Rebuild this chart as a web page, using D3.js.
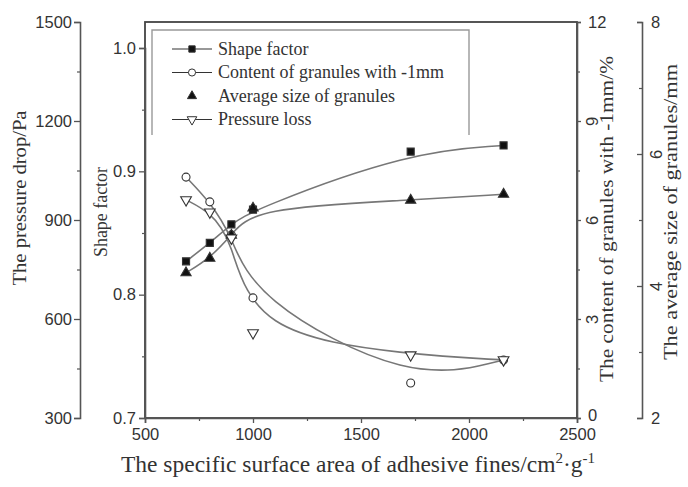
<!DOCTYPE html>
<html>
<head>
<meta charset="utf-8">
<script src="https://cdn.jsdelivr.net/npm/d3@7"></script>
<style>
  html, body { margin: 0; padding: 0; background: #fff; }
  svg text { fill: #333; }
</style>
</head>
<body>
<svg id="chart" width="688" height="487"></svg>
<script>
// Specific surface area of the adhesive fines (cm^2/g)
const specificArea = [690, 800, 900, 1000, 1730, 2160];
// Shape factor of granules (left inner axis)
const shapeFactor = [0.827, 0.842, 0.857, 0.869, 0.916, 0.921];
// Content of granules finer than 1 mm, % (right inner axis)
const contentFine = [7.3, 6.55, 5.55, 3.64, 1.06, 1.76];
// Average granule size, mm (right outer axis)
const avgSize = [4.2, 4.42, 4.77, 5.18, 5.30, 5.39];
// Pressure drop through the bed, Pa (left outer axis)
const pressureLoss = [961, 924, 845, 558, 491, 476];

const xTicks = [500, 1000, 1500, 2000, 2500];
const sfTicks = [0.7, 0.8, 0.9, 1.0];
const pTicks = [300, 600, 900, 1200, 1500];
const cTicks = [0, 3, 6, 9, 12];
const sTicks = [2, 4, 6, 8];

const legendLabels = ["Shape factor", "Content of granules with -1mm",
                      "Average size of granules", "Pressure loss"];

const svg = d3.select("#chart");
const L = 145, R = 577, T = 22, B = 418;

const x = d3.scaleLinear([500, 2500], [L, R]);
const ySF = d3.scaleLinear([0.7, 1.0], [B, 48]);
const yP = d3.scaleLinear([300, 1500], [B, T]);
const yC = d3.scaleLinear([0, 12], [B, T]);
const yS = d3.scaleLinear([2, 8], [B, T]);

const sans = "'Liberation Sans', Arial, sans-serif";
const serif = "'Liberation Serif', 'Times New Roman', serif";
const axisColor = "#555";
const tickFont = 16.5;

function styleAxis(g, fontSize) {
  g.selectAll("path.domain").attr("stroke", axisColor).attr("stroke-width", 1.6);
  g.selectAll(".tick line").attr("stroke", axisColor).attr("stroke-width", 1.3);
  g.selectAll(".tick text").attr("font-family", sans).attr("font-size", fontSize).attr("fill", "#333");
}
function minor(g, scale, values, orient, size) {
  const ax = orient(scale).tickValues(values).tickSize(size).tickFormat("");
  const m = g.append("g").call(ax);
  m.select("path.domain").remove();
  m.selectAll(".tick line").attr("stroke", axisColor).attr("stroke-width", 1.2);
}

// Frame
svg.append("rect").attr("x", L).attr("y", T).attr("width", R - L).attr("height", B - T)
  .attr("fill", "none").attr("stroke", "#444").attr("stroke-width", 1.8);

// Bottom axis
const gx = svg.append("g").attr("transform", `translate(0,${B})`)
  .call(d3.axisBottom(x).tickValues(xTicks).tickSize(5).tickPadding(5).tickFormat(d3.format("d")));
styleAxis(gx, tickFont);
minor(gx, x, [750, 1250, 1750, 2250], d3.axisBottom, 3);

// Shape factor axis (left, on frame)
const gsf = svg.append("g").attr("transform", `translate(${L},0)`)
  .call(d3.axisLeft(ySF).tickValues(sfTicks).tickSize(6).tickPadding(3).tickFormat(d3.format(".1f")));
styleAxis(gsf, tickFont);
minor(gsf, ySF, [0.75, 0.85, 0.95], d3.axisLeft, 3);

// Pressure axis (left, outer)
const gp = svg.append("g").attr("transform", `translate(80,0)`)
  .call(d3.axisLeft(yP).tickValues(pTicks).tickSize(6).tickPadding(2).tickFormat(d3.format("d")));
styleAxis(gp, tickFont);
minor(gp, yP, [450, 750, 1050, 1350], d3.axisLeft, 3);

// Content axis (right, on frame); inner labels are turned on their side
const gc = svg.append("g").attr("transform", `translate(${R},0)`)
  .call(d3.axisRight(yC).tickValues(cTicks).tickSize(4).tickPadding(7).tickFormat(d3.format("d")));
styleAxis(gc, tickFont);
minor(gc, yC, [1.5, 4.5, 7.5, 10.5], d3.axisRight, 3);
gc.selectAll(".tick text").filter(d => d > 0 && d < 12)
  .attr("text-anchor", "middle").attr("x", 0).attr("y", 0).attr("dy", "0.35em")
  .attr("transform", "translate(15,0) rotate(-90)");
gc.selectAll(".tick text").filter(d => d === 0).attr("dy", "0.15em");

// Average size axis (right, outer) with ticks pointing inward
const gs = svg.append("g").attr("transform", `translate(642,0)`)
  .call(d3.axisRight(yS).tickValues(sTicks).tickSizeInner(-5).tickSizeOuter(-5).tickPadding(9).tickFormat(d3.format("d")));
styleAxis(gs, tickFont);
minor(gs, yS, [3, 5, 7], d3.axisRight, -3);
gs.selectAll(".tick text").filter(d => d > 2 && d < 8)
  .attr("text-anchor", "middle").attr("x", 0).attr("y", 0).attr("dy", "0.35em")
  .attr("transform", "translate(14,0) rotate(-90)");

// Axis titles
function vTitle(xp, yp, txt, size, len) {
  svg.append("text").attr("transform", `translate(${xp},${yp}) rotate(-90)`)
    .attr("text-anchor", "middle").attr("dominant-baseline", "central")
    .attr("font-family", serif).attr("font-size", size)
    .attr("textLength", len).attr("lengthAdjust", "spacingAndGlyphs").text(txt);
}
vTitle(20, 198, "The pressure drop/Pa", 18, 175);
vTitle(101, 212, "Shape factor", 18, 90);
vTitle(607, 219, "The content of granules with -1mm/%", 18, 326);
vTitle(671, 212, "The average size of granules/mm", 18, 296);

const xt = svg.append("text").attr("x", 358).attr("y", 472).attr("text-anchor", "middle")
  .attr("font-family", serif).attr("font-size", 23.5);
xt.append("tspan").text("The specific surface area of adhesive fines/cm");
xt.append("tspan").attr("dy", -9).attr("font-size", 15).text("2");
xt.append("tspan").attr("dy", 9).text("·g");
xt.append("tspan").attr("dy", -9).attr("font-size", 15).text("-1");

// Series
const series = [
  { vals: shapeFactor, y: ySF, sym: d3.symbolSquare, size: 50, fill: "#111" },
  { vals: contentFine, y: yC, sym: d3.symbolCircle, size: 50, fill: "#fff" },
  { vals: avgSize, y: yS, sym: d3.symbolTriangle, size: 45, fill: "#111" },
  { vals: pressureLoss, y: yP, sym: d3.symbolTriangle, size: 50, fill: "#fff", flip: true }
];

const lineColor = "#777";
series.forEach(s => {
  const pts = specificArea.map((a, i) => [x(a), s.y(s.vals[i])]);
  svg.append("path").datum(pts)
    .attr("d", d3.line().curve(d3.curveBasis))
    .attr("fill", "none").attr("stroke", lineColor).attr("stroke-width", 1.6);
});
series.forEach(s => {
  specificArea.forEach((a, i) => {
    svg.append("path")
      .attr("d", d3.symbol(s.sym, s.size)())
      .attr("transform", `translate(${x(a)},${s.y(s.vals[i])})${s.flip ? " rotate(180)" : ""}`)
      .attr("fill", s.fill).attr("stroke", "#333").attr("stroke-width", 1.1);
  });
});

// Legend (open at the bottom)
const lg = svg.append("g");
lg.append("path").attr("d", `M152,135 V30 H469 V135`)
  .attr("fill", "none").attr("stroke", "#999").attr("stroke-width", 1.4);
legendLabels.forEach((lab, i) => {
  const s = series[i];
  const yy = 49 + i * 23.5;
  if (i !== 2) {
    lg.append("line").attr("x1", 172).attr("x2", 212).attr("y1", yy).attr("y2", yy)
      .attr("stroke", "#333").attr("stroke-width", 1.2);
  }
  lg.append("path").attr("d", d3.symbol(s.sym, s.size * 0.8)())
    .attr("transform", `translate(192,${yy})${s.flip ? " rotate(180)" : ""}`)
    .attr("fill", s.fill).attr("stroke", "#333").attr("stroke-width", 1);
  lg.append("text").attr("x", 218).attr("y", yy).attr("dy", "0.33em")
    .attr("font-family", serif).attr("font-size", 18).text(lab);
});
</script>
</body>
</html>
